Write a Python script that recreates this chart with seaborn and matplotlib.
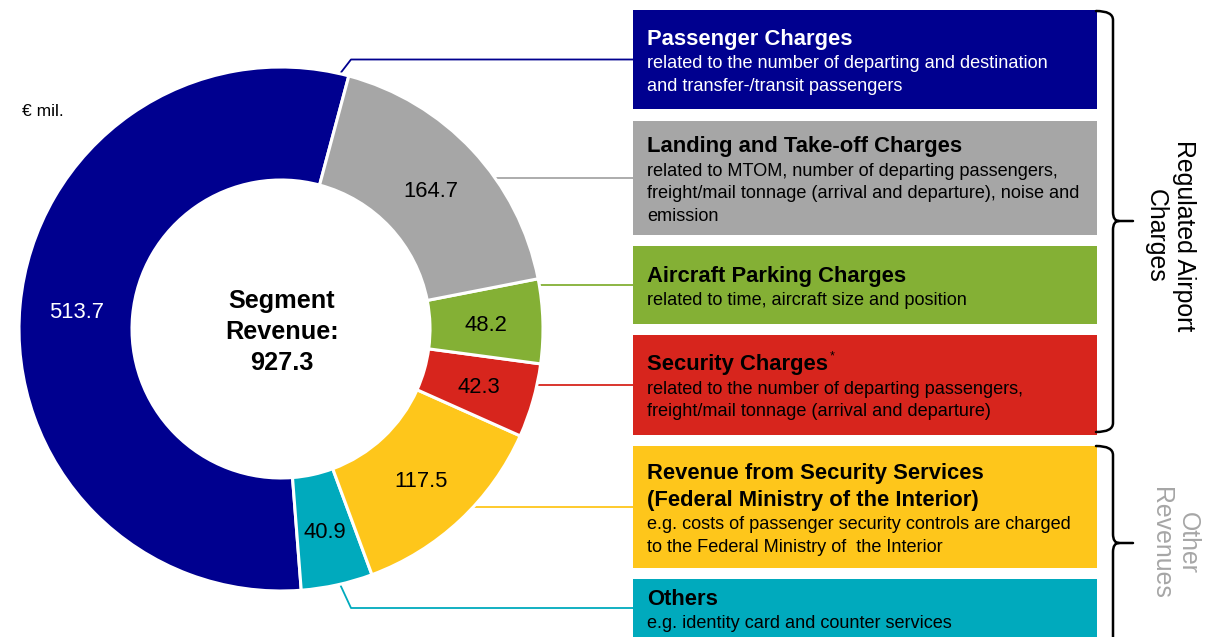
import numpy as np
import matplotlib
matplotlib.use("Agg")
import matplotlib.pyplot as plt
from matplotlib.patches import Rectangle, PathPatch
from matplotlib.path import Path
import seaborn as sns

# ---- data -------------------------------------------------------------
categories = [
    "Passenger Charges",
    "Landing and Take-off Charges",
    "Aircraft Parking Charges",
    "Security Charges",
    "Revenue from Security Services\n(Federal Ministry of the Interior)",
    "Others",
]
values = [513.7, 164.7, 48.2, 42.3, 117.5, 40.9]
descriptions = [
    ["related to the number of departing and destination",
     "and transfer-/transit passengers"],
    ["related to MTOM, number of departing passengers,",
     "freight/mail tonnage (arrival and departure), noise and",
     "emission"],
    ["related to time, aircraft size and position"],
    ["related to the number of departing passengers,",
     "freight/mail tonnage (arrival and departure)"],
    ["e.g. costs of passenger security controls are charged",
     "to the Federal Ministry of  the Interior"],
    ["e.g. identity card and counter services"],
]
footnote_marks = ["", "", "", "*", "", ""]
group_labels = [["Regulated Airport", "Charges"], ["Other", "Revenues"]]
unit_label = "€ mil."
center_lines = ["Segment", "Revenue:"]

# ---- styling ----------------------------------------------------------
palette = sns.color_palette(["#00008F", "#A6A6A6", "#84B035",
                             "#D7251D", "#FEC61B", "#00AABD"])
text_on_fill = ["white", "black", "black", "black", "black", "black"]
group_colors = ["black", "#A6A6A6"]

sns.set_theme(style="white")
plt.rcParams["font.family"] = ["Liberation Sans", "DejaVu Sans"]
plt.rcParams["text.color"] = "black"

W, H = 1208, 637
PX = 100 / 72  # pixels per point at dpi 100

fig = plt.figure(figsize=(W / 100, H / 100), dpi=100)
ax = fig.add_axes([0, 0, 1, 1])


def Y(y):
    """image-row coordinate -> data y"""
    return H - y


def text_c(x, yc, s, size, **kw):
    """place text with its cap-height centre at image row yc"""
    ax.text(x, Y(yc) - 0.358 * size * PX, s, fontsize=size, va="baseline", **kw)


# ---- donut ------------------------------------------------------------
cx, cy, R, ring = 281, 329, 262, 113
order = [0, 5, 4, 3, 2, 1]  # counter-clockwise from the top
wedges, _ = ax.pie(
    [values[i] for i in order],
    colors=[palette[i] for i in order],
    startangle=75,
    counterclock=True,
    radius=R,
    center=(cx, Y(cy)),
    wedgeprops=dict(width=ring, edgecolor="white", linewidth=2.2),
    frame=True,
)

for w, i in zip(wedges, order):
    ang = np.deg2rad((w.theta1 + w.theta2) / 2)
    rm = w.r - w.width / 2
    x = w.center[0] + rm * np.cos(ang)
    y = w.center[1] + rm * np.sin(ang)
    ax.text(x, y - 0.358 * 15.8 * PX, f"{values[i]:.1f}", fontsize=15.8,
            ha="center", va="baseline", color=text_on_fill[i])

# centre caption
total = sum(values)
for k, s in enumerate(center_lines + [f"{total:.1f}"]):
    ax.text(cx + 1, Y(308 + 31 * k), s, fontsize=18.2, fontweight="bold",
            ha="center", va="baseline", color="black")

text_c(22, 110, unit_label, 12.5, ha="left", color="black")

# ---- description boxes -----------------------------------------------
box_x0, box_x1 = 633, 1097
box_top = [10, 121, 246, 335, 446, 579]
box_bot = [109, 235, 324, 435, 568, 637]
TITLE_PT, DESC_PT = 15.8, 13.1

for i in range(len(categories)):
    t, b = box_top[i], box_bot[i]
    ax.add_patch(Rectangle((box_x0, Y(b)), box_x1 - box_x0, b - t,
                           facecolor=palette[i], edgecolor="none", zorder=1))
    titles = categories[i].split("\n")
    descs = descriptions[i]
    steps = [27] * (len(titles) - 1) + [23.5] + [22.5] * (len(descs) - 1)
    block = sum(steps)
    base = (t + b) / 2 - block / 2 + 8.3
    col = text_on_fill[i]
    yb = base
    for j, s in enumerate(titles):
        tt = ax.text(647, Y(yb), s, fontsize=TITLE_PT, fontweight="bold",
                     color=col, va="baseline", zorder=3)
        if footnote_marks[i] and j == len(titles) - 1:
            fig.canvas.draw()
            bb = tt.get_window_extent().transformed(ax.transData.inverted())
            ax.text(bb.x1 + 1, Y(yb) + 11, footnote_marks[i], fontsize=9,
                    color=col, va="baseline", zorder=3)
        yb += 27 if j < len(titles) - 1 else 23.5
    for j, s in enumerate(descs):
        ax.text(647, Y(yb), s, fontsize=DESC_PT, color=col,
                va="baseline", zorder=3)
        yb += 22.5

    # connector from ring to box
    yc = (t + b) / 2
    dy = yc - cy
    if abs(dy) < R:
        xs = cx + np.sqrt(R ** 2 - dy ** 2)
        ax.plot([xs, box_x0], [Y(yc), Y(yc)], color=palette[i], lw=1.3,
                solid_capstyle="butt", zorder=0.5)
    else:
        xk = 351
        xs = 340
        ys = cy + np.sign(dy) * np.sqrt(R ** 2 - (xs - cx) ** 2)
        ax.plot([xs, xk, box_x0], [Y(ys), Y(yc), Y(yc)], color=palette[i],
                lw=1.3, solid_capstyle="butt", zorder=0.5)


# ---- group braces -----------------------------------------------------
def brace(y0, y1, ym, xh=1096, xl=1113, xt=1133, r=9):
    verts = [
        (xh, y0), (xl, y0), (xl, y0 + r),
        (xl, ym - r), (xl, ym), (xl + 6, ym),
        (xt, ym),
        (xl + 6, ym), (xl, ym), (xl, ym + r),
        (xl, y1 - r), (xl, y1), (xh, y1),
    ]
    codes = [Path.MOVETO, Path.CURVE3, Path.CURVE3,
             Path.LINETO, Path.CURVE3, Path.CURVE3,
             Path.LINETO,
             Path.MOVETO, Path.CURVE3, Path.CURVE3,
             Path.LINETO, Path.CURVE3, Path.CURVE3]
    p = Path([(x, Y(y)) for x, y in verts], codes)
    ax.add_patch(PathPatch(p, facecolor="none", edgecolor="black",
                           lw=1.8, capstyle="round", joinstyle="round"))


brace(11, 432, 221)
brace(446, 660, 543)

GROUP_PT = 17.9
group_pos = [((1177, 1149), 236), ((1181, 1154), 543)]
for lines, ((xa, xb), yc), col in zip(group_labels, group_pos, group_colors):
    for s, xbase in zip(lines, (xa, xb)):
        ax.text(xbase, Y(yc), s, fontsize=GROUP_PT, color=col, rotation=-90,
                rotation_mode="anchor", ha="center", va="baseline")

ax.set_xlim(0, W)
ax.set_ylim(0, H)
ax.set_aspect("equal")
ax.axis("off")
fig.savefig("out.png", dpi=100)
